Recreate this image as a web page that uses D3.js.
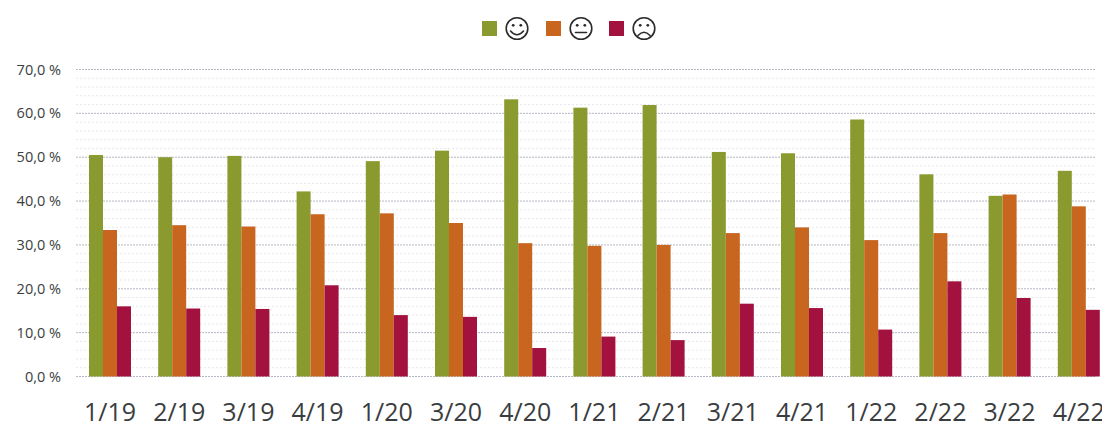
<!DOCTYPE html>
<html><head><meta charset="utf-8">
<script src="https://cdn.jsdelivr.net/npm/d3@7/dist/d3.min.js"></script>
<style>html,body{margin:0;padding:0;background:#fff}svg{display:block}text{font-family:"Open Sans",sans-serif;fill:#3a3d40}</style>
</head><body><svg id="c" width="1102" height="428"></svg>
<script>
const categories=["1/19","2/19","3/19","4/19","1/20","3/20","4/20","1/21","2/21","3/21","4/21","1/22","2/22","3/22","4/22"];
const positive=[50.5,50.0,50.3,42.2,49.1,51.5,63.2,61.3,61.9,51.2,50.9,58.6,46.1,41.2,46.9];
const neutral=[33.4,34.5,34.2,37.0,37.2,35.0,30.4,29.8,30.0,32.7,34.0,31.1,32.7,41.5,38.8];
const negative=[16.0,15.5,15.4,20.8,14.0,13.6,6.5,9.1,8.3,16.6,15.6,10.7,21.7,17.9,15.2];
const seriesNames=["positive","neutral","negative"];
const seriesValues=[positive,neutral,negative];
const seriesColors=["#8a9a2e","#c8651f","#a3123f"];
const yTicks=[0,10,20,30,40,50,60,70];
const minorTicks=[2,4,6,8,12,14,16,18,22,24,26,28,32,34,36,38,42,44,46,48,52,54,56,58,62,64,66,68];

const svg=d3.select("#c");
const y=d3.scaleLinear().domain([0,70]).range([376.5,69.5]);
const x=d3.scaleBand().domain(categories).range([75.4,1113.4]);
const xs=d3.scaleBand().domain(seriesNames).range([-21,21]);
const right=1096;

svg.append("g").selectAll("line").data(minorTicks).join("line")
 .attr("x1",76).attr("x2",right).attr("y1",d=>y(d)).attr("y2",d=>y(d))
 .attr("stroke","#e6e8ec").attr("stroke-width",1).attr("stroke-dasharray","2 2");
svg.append("g").selectAll("line").data(yTicks).join("line")
 .attr("x1",76).attr("x2",right).attr("y1",d=>y(d)).attr("y2",d=>y(d))
 .attr("stroke","#b4b9c6").attr("stroke-width",1).attr("stroke-dasharray","2 1");

const yAxis=d3.axisLeft(y).tickValues(yTicks).tickSize(0).tickPadding(0)
 .tickFormat(d=>d3.format(".1f")(d).replace(".",",")+" %");
svg.append("g").attr("transform","translate(61,0)").call(yAxis)
 .call(g=>g.select(".domain").remove())
 .call(g=>g.selectAll("text").attr("font-size",14.5).style("font-family",'"Open Sans",sans-serif'));

const groups=svg.append("g").selectAll("g").data(categories).join("g")
 .attr("transform",d=>`translate(${x(d)+x.bandwidth()/2},0)`);
seriesNames.forEach((s,si)=>{
 groups.append("rect")
  .attr("x",xs(s)).attr("width",xs.bandwidth())
  .attr("y",(d,i)=>y(seriesValues[si][i]))
  .attr("height",(d,i)=>y(0)-y(seriesValues[si][i]))
  .attr("fill",seriesColors[si]);
});

const xAxis=d3.axisBottom(x).tickSize(0).tickPadding(0);
svg.append("g").attr("transform","translate(0,399)").call(xAxis)
 .call(g=>g.select(".domain").remove())
 .call(g=>g.selectAll("text").attr("font-size",25).attr("dy","0.32em").attr("y",14).style("font-family",'"Open Sans",sans-serif'));

// legend: square plus face drawn with d3.arc
const legendX=[482,546,609];
const mouths=["M-6.5,2.5 Q0,10 6.5,2.5","M-5.5,4 H5.5","M-6,7 Q0,0.5 6,7"];
const leg=svg.append("g");
seriesNames.forEach((s,i)=>{
 const g=leg.append("g").attr("transform",`translate(${legendX[i]},0)`);
 g.append("rect").attr("x",0).attr("y",21).attr("width",15).attr("height",15).attr("fill",seriesColors[i]);
 const f=g.append("g").attr("transform","translate(35,28.5)").attr("fill","none").attr("stroke","#2b2b2b").attr("stroke-width",1.6);
 f.append("circle").attr("r",10.8);
 f.append("path").attr("d",mouths[i]).attr("stroke-linecap","round");
 [-3.8,3.8].forEach(e=>f.append("circle").attr("cx",e).attr("cy",-3.2).attr("r",1.4).attr("fill","#2b2b2b").attr("stroke","none"));
});
</script></body></html>
